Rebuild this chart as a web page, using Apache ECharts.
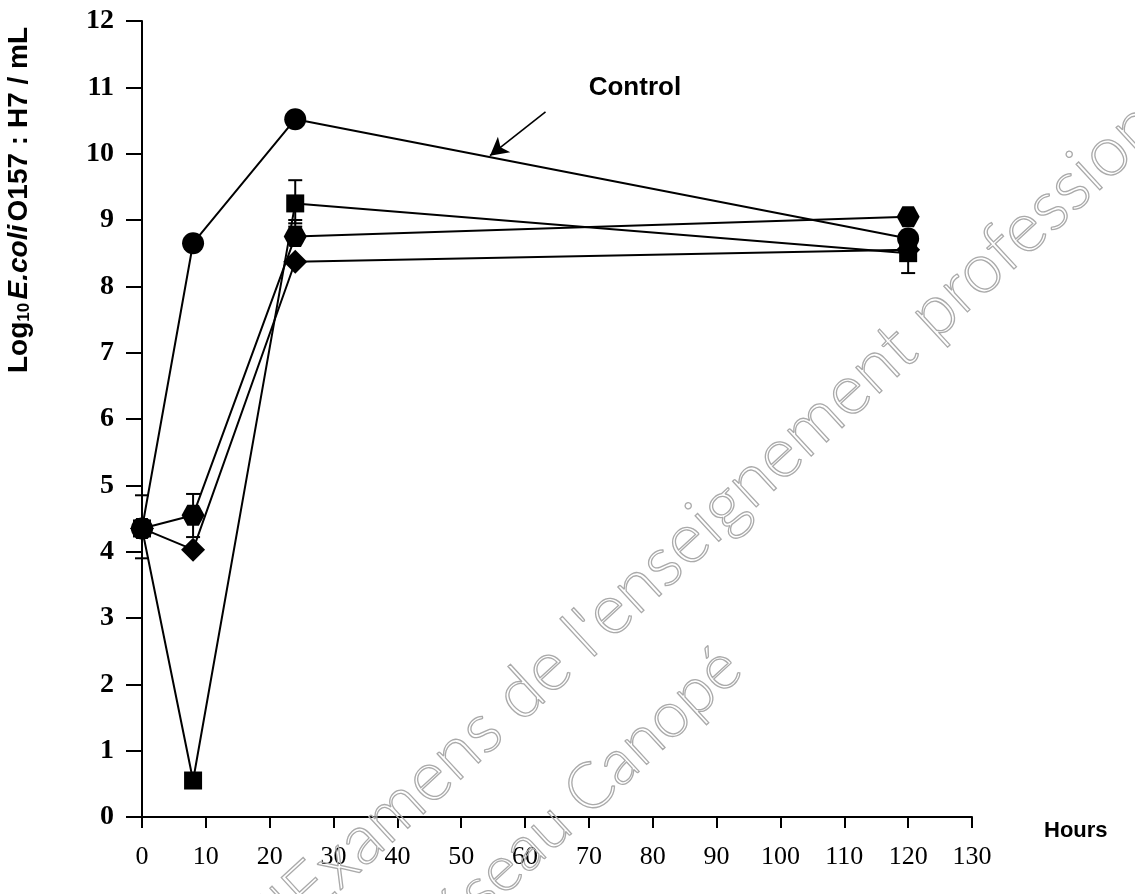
<!DOCTYPE html>
<html>
<head>
<meta charset="utf-8">
<script src="https://cdn.jsdelivr.net/npm/echarts@6/dist/echarts.min.js"></script>
<style>
  html, body { margin: 0; padding: 0; background: #fff; }
  #chart { width: 1135px; height: 894px; }
</style>
</head>
<body>
<div id="chart"></div>
<script>
// sampling times (hours)
const hours = [0, 8, 24, 120];
// Log10 E.coli O157:H7 / mL
const control = [4.35, 8.65, 10.52, 8.72];
const squareSeries = [4.35, 0.55, 9.25, 8.5];
const hexSeries = [4.35, 4.55, 8.75, 9.05];
const diamondSeries = [4.35, 4.03, 8.37, 8.55];

// error bars : hour, low, high
const errHours = [0, 8, 24, 24, 120];
const errLow = [3.9, 4.22, 8.9, 8.95, 8.2];
const errHigh = [4.85, 4.87, 9.6, 9.0, 8.8];

const xTicks = [0, 10, 20, 30, 40, 50, 60, 70, 80, 90, 100, 110, 120, 130];
const yTicks = [0, 1, 2, 3, 4, 5, 6, 7, 8, 9, 10, 11, 12];

const hexPath = 'path://M5,0 L15,0 L20,8.66 L15,17.32 L5,17.32 L0,8.66 Z';

const chart = echarts.init(document.getElementById('chart'));

function pts(vals) {
  return hours.map((h, i) => [h, vals[i]]);
}

const errData = errHours.map((h, i) => [h, errLow[i], errHigh[i]]);

function lineSeries(name, vals, symbol, size, extra) {
  return Object.assign({
    name: name,
    type: 'line',
    data: pts(vals),
    symbol: symbol,
    symbolSize: size,
    showAllSymbol: true,
    lineStyle: { color: '#000', width: 2 },
    itemStyle: { color: '#000', borderWidth: 0 },
    emphasis: { disabled: true },
    z: 3
  }, extra || {});
}

const option = {
  animation: false,
  backgroundColor: '#fff',
  grid: { left: 142, right: 163, top: 21, bottom: 77, containLabel: false },
  xAxis: {
    type: 'value',
    min: 0, max: 130, interval: 10,
    axisLine: { lineStyle: { color: '#000', width: 2 } },
    axisTick: { inside: false, length: 11, lineStyle: { color: '#000', width: 2 } },
    axisLabel: {
      margin: 27, color: '#000',
      fontFamily: 'Liberation Serif', fontSize: 26,
      formatter: v => xTicks.indexOf(v) >= 0 ? String(v) : ''
    },
    splitLine: { show: false }
  },
  yAxis: {
    type: 'value',
    min: 0, max: 12, interval: 1,
    axisLine: { show: true, lineStyle: { color: '#000', width: 2 } },
    axisTick: { show: true, inside: false, length: 16, lineStyle: { color: '#000', width: 2 } },
    axisLabel: {
      margin: 28, color: '#000',
      fontFamily: 'Liberation Serif', fontSize: 28, fontWeight: 'bold',
      formatter: v => yTicks.indexOf(v) >= 0 ? String(v) : ''
    },
    splitLine: { show: false }
  },
  series: [
    {
      type: 'custom',
      name: 'err',
      data: errData,
      z: 2,
      renderItem: function (params, api) {
        const x = api.coord([api.value(0), 0])[0];
        const lo = api.coord([0, api.value(1)])[1];
        const hi = api.coord([0, api.value(2)])[1];
        const w = 7;
        const st = { stroke: '#000', lineWidth: 2 };
        return {
          type: 'group',
          children: [
            { type: 'line', shape: { x1: x, y1: lo, x2: x, y2: hi }, style: st },
            { type: 'line', shape: { x1: x - w, y1: lo, x2: x + w, y2: lo }, style: st },
            { type: 'line', shape: { x1: x - w, y1: hi, x2: x + w, y2: hi }, style: st }
          ]
        };
      }
    },
    lineSeries('Control', control, 'circle', 22, {
      markLine: {
        silent: true,
        symbol: ['none', 'arrow'],
        symbolSize: [15, 18],
        lineStyle: { color: '#000', width: 1.6, type: 'solid' },
        label: { show: false },
        data: [[{ coord: [63.2, 10.63] }, { coord: [54.5, 9.97] }]]
      },
      markPoint: {
        silent: true,
        symbol: 'circle',
        symbolSize: 0,
        label: {
          show: true, formatter: 'Control', color: '#000',
          fontFamily: 'Liberation Sans', fontWeight: 'bold', fontSize: 26
        },
        data: [{ coord: [77.2, 11.0] }]
      }
    }),
    lineSeries('Square', squareSeries, 'rect', 18),
    lineSeries('Hexagon', hexSeries, hexPath, [23, 21]),
    lineSeries('Diamond', diamondSeries, 'diamond', [24, 24])
  ],
  graphic: [
    {
      type: 'text',
      x: 5, y: 373,
      rotation: Math.PI / 2,
      style: {
        text: '{n|Log}{s|10} {i|E.coli} {n|O157 : H7 / mL}',
        fill: '#000',
        rich: {
          n: { fontFamily: 'Liberation Sans', fontWeight: 'bold', fontSize: 28 },
          s: { fontFamily: 'Liberation Sans', fontWeight: 'bold', fontSize: 17, padding: [11, 0, 0, 0] },
          i: { fontFamily: 'Liberation Sans', fontWeight: 'bold', fontStyle: 'italic', fontSize: 28 }
        }
      }
    },
    {
      type: 'text',
      x: 1044, y: 820,
      style: { text: 'Hours', fill: '#000', fontFamily: 'Liberation Sans', fontWeight: 'bold', fontSize: 22 }
    },
    {
      type: 'text',
      x: 232, y: 912,
      rotation: 0.745,
      silent: true,
      z: 10,
      style: {
        text: "d'Examens de l'enseignement professionnel",
        fill: 'rgba(0,0,0,0)', stroke: '#aaaaaa', lineWidth: 1.3,
        fontFamily: 'Lato', fontWeight: 300, fontSize: 70
      }
    },
    {
      type: 'text',
      x: 395, y: 925,
      rotation: 0.745,
      silent: true,
      z: 10,
      style: {
        text: 'Réseau Canopé',
        fill: 'rgba(0,0,0,0)', stroke: '#aaaaaa', lineWidth: 1.3,
        fontFamily: 'Lato', fontWeight: 300, fontSize: 64
      }
    }
  ]
};

chart.setOption(option);
</script>
</body>
</html>
